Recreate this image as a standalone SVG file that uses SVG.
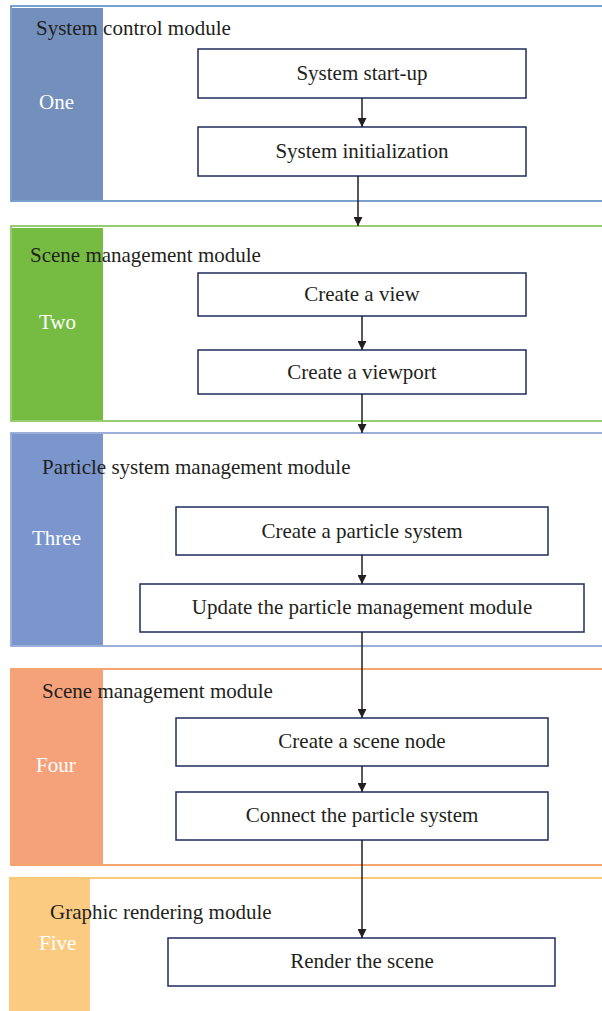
<svg xmlns="http://www.w3.org/2000/svg" width="602" height="1011" viewBox="0 0 602 1011">
  <defs>
    <marker id="arrow" viewBox="0 0 10 10" refX="10" refY="5" markerWidth="9" markerHeight="9" markerUnits="userSpaceOnUse" orient="auto">
      <path d="M0,0 L10,5 L0,10 z" fill="#231f20"/>
    </marker>
    <style>
      text { font-family: "Liberation Serif", "DejaVu Serif", serif; fill: #231f20; }
      .title { font-size: 21px; }
      .step { font-size: 21px; text-anchor: middle; }
      .num { font-size: 21px; fill: #ffffff; }
      .box { fill: #ffffff; stroke: #1f2d5c; stroke-width: 1.5; }
      .frame { fill: none; stroke-width: 1.5; }
      .edge { stroke: #231f20; stroke-width: 1.5; fill: none; marker-end: url(#arrow); }
    </style>
  </defs>
  <rect width="602" height="1011" fill="#ffffff"/>

  <!-- Module 1: system control -->
  <g id="module-one">
    <rect class="frame" x="11" y="6" width="600" height="195" stroke="#4f81c0"/>
    <rect x="12" y="8" width="91" height="192" fill="#7390bc"/>
    <text class="title" x="36" y="35">System control module</text>
    <text class="num" x="39" y="109">One</text>
  </g>
  <g id="system-start-up">
    <rect class="box" x="198" y="49" width="328" height="49"/>
    <text class="step" x="362" y="80">System start-up</text>
  </g>
  <g id="system-initialization">
    <rect class="box" x="198" y="127" width="328" height="49"/>
    <text class="step" x="362" y="158">System initialization</text>
  </g>

  <!-- Module 2: scene management -->
  <g id="module-two">
    <rect class="frame" x="11" y="226" width="600" height="195" stroke="#76bc43"/>
    <rect x="12" y="228" width="91" height="192" fill="#76bc43"/>
    <text class="title" x="30" y="262">Scene management module</text>
    <text class="num" x="39" y="329">Two</text>
  </g>
  <g id="create-view">
    <rect class="box" x="198" y="273" width="328" height="43"/>
    <text class="step" x="362" y="301">Create a view</text>
  </g>
  <g id="create-viewport">
    <rect class="box" x="198" y="350" width="328" height="44"/>
    <text class="step" x="362" y="379">Create a viewport</text>
  </g>

  <!-- Module 3: particle system management -->
  <g id="module-three">
    <rect class="frame" x="11" y="433" width="600" height="213" stroke="#7a96cc"/>
    <rect x="12" y="434" width="91" height="211" fill="#7a96cc"/>
    <text class="title" x="42" y="474">Particle system management module</text>
    <text class="num" x="32" y="545">Three</text>
  </g>
  <g id="create-particle-system">
    <rect class="box" x="176" y="507" width="372" height="48"/>
    <text class="step" x="362" y="538">Create a particle system</text>
  </g>
  <g id="update-particle-module">
    <rect class="box" x="140" y="584" width="444" height="48"/>
    <text class="step" x="362" y="614">Update the particle management module</text>
  </g>

  <!-- Module 4: scene management -->
  <g id="module-four">
    <rect class="frame" x="11" y="669" width="600" height="196" stroke="#f5883f"/>
    <rect x="12" y="670" width="91" height="194" fill="#f5a17a"/>
    <text class="title" x="42" y="698">Scene management module</text>
    <text class="num" x="36" y="772">Four</text>
  </g>
  <g id="create-scene-node">
    <rect class="box" x="176" y="718" width="372" height="48"/>
    <text class="step" x="362" y="748">Create a scene node</text>
  </g>
  <g id="connect-particle-system">
    <rect class="box" x="176" y="792" width="372" height="48"/>
    <text class="step" x="362" y="822">Connect the particle system</text>
  </g>

  <!-- Module 5: graphic rendering -->
  <g id="module-five">
    <line x1="9" y1="878" x2="602" y2="878" stroke="#fbb849" stroke-width="1.5"/>
    <rect x="9" y="879" width="81" height="132" fill="#fbcb82"/>
    <text class="title" x="50" y="919">Graphic rendering module</text>
    <text class="num" x="39" y="950">Five</text>
  </g>
  <g id="render-scene">
    <rect class="box" x="168" y="938" width="387" height="48"/>
    <text class="step" x="362" y="968">Render the scene</text>
  </g>

  <!-- Connectors -->
  <g id="connectors">
    <line class="edge" x1="362" y1="98" x2="362" y2="127"/>
    <line class="edge" x1="358" y1="176" x2="358" y2="226"/>
    <line class="edge" x1="362" y1="316" x2="362" y2="350"/>
    <line class="edge" x1="362" y1="394" x2="362" y2="433"/>
    <line class="edge" x1="362" y1="555" x2="362" y2="584"/>
    <line class="edge" x1="362" y1="632" x2="362" y2="718"/>
    <line class="edge" x1="362" y1="766" x2="362" y2="792"/>
    <line class="edge" x1="362" y1="840" x2="362" y2="938"/>
  </g>
</svg>
